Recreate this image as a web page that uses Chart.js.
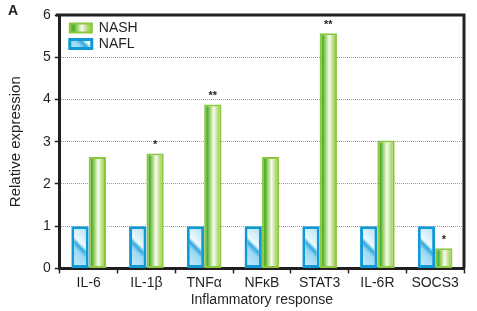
<!DOCTYPE html>
<html>
<head>
<meta charset="utf-8">
<script src="https://cdn.jsdelivr.net/npm/chart.js@4.4.1/dist/chart.umd.min.js"></script>
<style>
  html, body { margin: 0; padding: 0; background: #fff; }
  #wrap { width: 477px; height: 311px; }
</style>
</head>
<body>
<div id="wrap"><canvas id="expr"></canvas></div>
<script>
var categories = ["IL-6", "IL-1\u03b2", "TNF\u03b1", "NF\u03baB", "STAT3", "IL-6R", "SOCS3"];
var nafl = [1, 1, 1, 1, 1, 1, 1];
var nash = [2.64, 2.72, 3.88, 2.64, 5.57, 3.03, 0.48];
var signif = ["", "*", "**", "", "**", "", "*"];
var yTicks = [0, 1, 2, 3, 4, 5, 6];

var ink = "#231f20"
  , fonts = "'Liberation Sans Narrow', 'Liberation Sans', Arial, sans-serif"
  , catPct = 0.6
;

// left/right pixel edges of a bar, worked out from the category scale
function barEdges(chart, index, dsIndex) {
	var xs = chart.scales.x;
	var w = xs.width / categories.length;
	var c = xs.getPixelForValue(index);
	var left = c - w * catPct / 2 + dsIndex * w * catPct / 2;
	return [left, left + w * catPct / 2];
}

function greenGrad(c, x0, x1) {
	var g = c.createLinearGradient(x0, 0, x1, 0);
	g.addColorStop(0, "#8dc63f");
	g.addColorStop(0.18, "#48ad33");
	g.addColorStop(0.3, "#8fca5a");
	g.addColorStop(0.55, "#f8fcf0");
	g.addColorStop(0.8, "#b3da78");
	g.addColorStop(1, "#8dc63f");
	return g;
}

function blueGrad(c, cx, cy) {
	var g = c.createLinearGradient(cx - 15, cy + 15, cx + 15, cy - 15);
	g.addColorStop(0, "#d2effb");
	g.addColorStop(0.4, "#9ad8f4");
	g.addColorStop(0.5, "#2fa8df");
	g.addColorStop(0.58, "#eef9fe");
	g.addColorStop(1, "#a6ddf6");
	return g;
}

function greenFill(ctx) {
	var chart = ctx.chart;
	if (!chart.chartArea || ctx.type !== "data") return "#8dc63f";
	var e = barEdges(chart, ctx.dataIndex, 1);
	return greenGrad(chart.ctx, e[0], e[1]);
}

function blueFill(ctx) {
	var chart = ctx.chart;
	if (!chart.chartArea || ctx.type !== "data") return "#9fdaf4";
	var e = barEdges(chart, ctx.dataIndex, 0);
	var yTop = chart.scales.y.getPixelForValue(ctx.raw);
	var yBot = chart.scales.y.getPixelForValue(0);
	return blueGrad(chart.ctx, (e[0] + e[1]) / 2, (yTop + yBot) / 2);
}

var legendDx = 8, legendDy = 4, legendPad = 2;

function legendItems(chart) {
	var items = Chart.defaults.plugins.legend.labels.generateLabels(chart);
	var a = chart.chartArea;
	if (!a) return items;
	var bx = a.left + legendDx + legendPad;
	items.forEach(function(it) {
		if (it.datasetIndex === 1) {
			it.fillStyle = greenGrad(chart.ctx, bx, bx + 22);
		} else {
			it.fillStyle = blueGrad(chart.ctx, bx + 11, a.top + 26);
		}
	});
	return items;
}

var extras = {
	id: "extras",
	afterLayout: function(chart) {
		// park the legend in the top-left corner of the plot
		var lg = chart.legend, a = chart.chartArea;
		lg.left = a.left + legendDx;
		lg.right = lg.left + lg.width;
		lg.top = a.top + legendDy;
		lg.bottom = lg.top + 40;
		lg.height = 40;
	},
	afterDatasetsDraw: function(chart) {
		var c = chart.ctx, a = chart.chartArea;
		c.save();
		// top and right of the frame
		c.strokeStyle = ink;
		c.lineWidth = 3;
		c.beginPath();
		c.moveTo(a.left - 4, a.top);
		c.lineTo(a.right, a.top);
		c.lineTo(a.right, a.bottom);
		c.stroke();
		// significance marks
		c.fillStyle = ink;
		c.font = "bold 11px " + fonts;
		c.textAlign = "center";
		c.textBaseline = "bottom";
		chart.getDatasetMeta(1).data.forEach(function(bar, i) {
			if (signif[i]) c.fillText(signif[i], bar.x, bar.y - 3);
		});
		// panel letter
		c.font = "bold 14px " + fonts;
		c.textAlign = "left";
		c.textBaseline = "top";
		c.fillText("A", 8, 4);
		c.restore();
	}
};

var ctx = document.getElementById("expr").getContext("2d");
var chart = new Chart(ctx, {
	type: "bar",
	data: {
		labels: categories,
		datasets: [
			{
				label: "NAFL",
				data: nafl,
				backgroundColor: blueFill,
				borderColor: "#1198d6",
				borderWidth: 3,
				borderSkipped: false,
				categoryPercentage: catPct,
				barPercentage: 1
			},
			{
				label: "NASH",
				data: nash,
				backgroundColor: greenFill,
				borderColor: "#8dc63f",
				borderWidth: 2,
				borderSkipped: false,
				categoryPercentage: catPct,
				barPercentage: 1
			}
		]
	},
	options: {
		responsive: true,
		maintainAspectRatio: false,
		animation: false,
		events: [],
		layout: { padding: { left: 7, right: 13, top: 15, bottom: 2 } },
		plugins: {
			tooltip: { enabled: false },
			legend: {
				position: "chartArea",
				align: "start",
				reverse: true,
				labels: {
					boxWidth: 22,
					boxHeight: 9,
					padding: legendPad,
					color: ink,
					font: { family: fonts, size: 14 },
					generateLabels: legendItems
				}
			}
		},
		scales: {
			x: {
				grid: {
					offset: true,
					drawOnChartArea: false,
					tickLength: 5,
					tickColor: ink,
					tickWidth: 1.5
				},
				border: { color: ink, width: 3 },
				ticks: { color: ink, padding: 1, font: { family: fonts, size: 14 } },
				title: {
					display: true,
					text: "Inflammatory response",
					color: ink,
					padding: { top: 0, bottom: 0 },
					font: { family: fonts, size: 14 }
				}
			},
			y: {
				min: 0,
				max: 6,
				afterBuildTicks: function(axis) {
					axis.ticks = yTicks.map(function(v) { return { value: v }; });
				},
				grid: {
					color: function(c) {
						return (c.tick && c.tick.value > 0 && c.tick.value < 6) ? "#9d9d9d" : "rgba(0,0,0,0)";
					},
					lineWidth: 1,
					tickLength: 5,
					tickColor: ink,
					tickWidth: 1.5
				},
				border: { color: ink, width: 3, dash: [1, 1] },
				ticks: { color: ink, padding: 4, font: { family: fonts, size: 14 } },
				title: {
					display: true,
					text: "Relative expression",
					color: ink,
					padding: { top: 0, bottom: 14 },
					font: { family: fonts, size: 15 }
				}
			}
		}
	},
	plugins: [extras]
});
</script>
</body>
</html>
